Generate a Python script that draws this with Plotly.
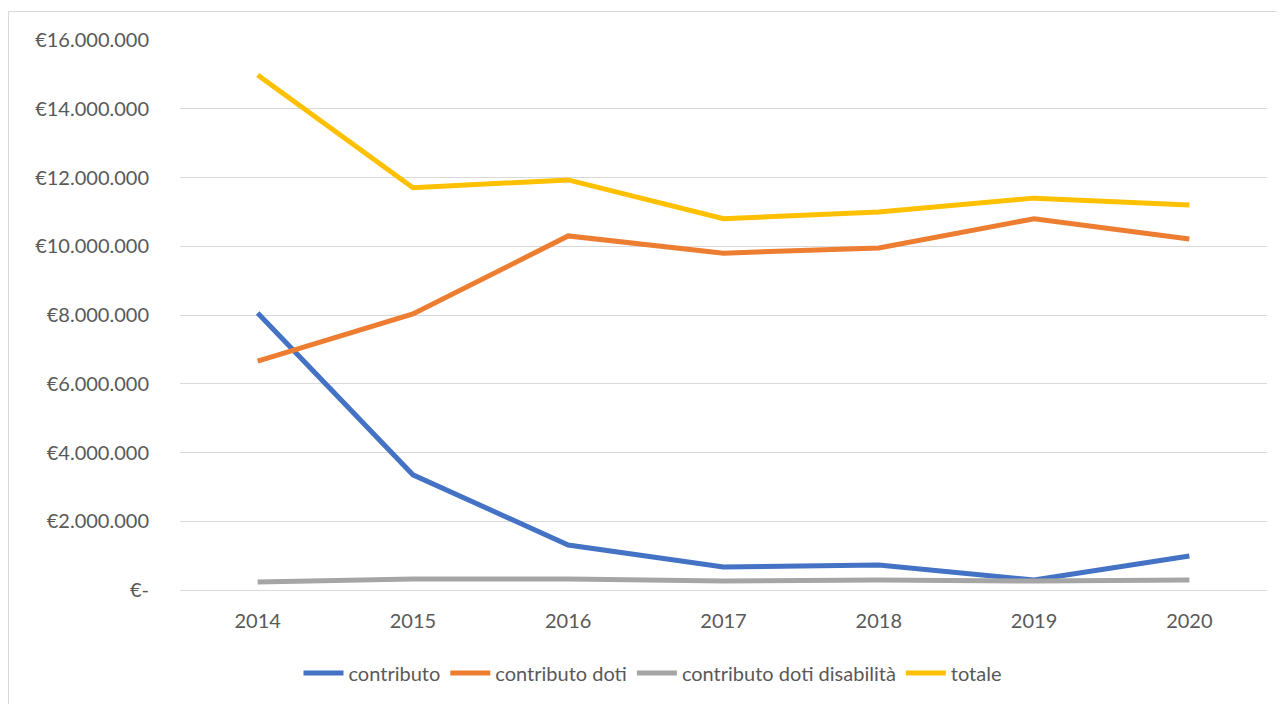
import plotly.graph_objects as go

years = ["2014", "2015", "2016", "2017", "2018", "2019", "2020"]
contributo = [8060000, 3350000, 1310000, 670000, 730000, 290000, 990000]
contributo_doti = [6660000, 8030000, 10300000, 9800000, 9950000, 10800000, 10210000]
contributo_doti_disabilita = [230000, 320000, 320000, 260000, 290000, 260000, 290000]
totale = [14980000, 11700000, 11930000, 10800000, 11000000, 11400000, 11200000]

series_names = ["contributo", "contributo doti", "contributo doti disabilità", "totale"]
series_colors = ["#4472C4", "#ED7D31", "#A5A5A5", "#FFC000"]

y_tickvals = [0, 2000000, 4000000, 6000000, 8000000, 10000000, 12000000, 14000000, 16000000]
y_ticktext = ["€-", "€2.000.000", "€4.000.000", "€6.000.000", "€8.000.000",
              "€10.000.000", "€12.000.000", "€14.000.000", "€16.000.000"]

# page body has an 8px margin, so the figure starts at (8, 8) in the window
OFF = 8
W, H = 1285 - OFF, 704 - OFF
ml, mr, mt, mb = 180 - OFF, 18, 40 - OFF, H - (590 - OFF)

fig = go.Figure()
for name, vals, col in zip(series_names,
                           [contributo, contributo_doti, contributo_doti_disabilita, totale],
                           series_colors):
    fig.add_trace(go.Scatter(x=years, y=vals, name=name, mode="lines",
                             line=dict(color=col, width=5)))

pw = W - ml - mr
ph = H - mt - mb
def px(x):
    return (x - OFF - ml) / pw
def py(y):
    return (H - mb - (y - OFF)) / ph

fig.add_shape(type="rect", xref="paper", yref="paper",
              x0=px(8.5), x1=px(1283.5), y0=py(710), y1=py(11.5),
              line=dict(color="#D9D9D9", width=1), fillcolor="rgba(0,0,0,0)", layer="below")

fig.update_layout(
    width=W, height=H,
    margin=dict(l=ml, r=mr, t=mt, b=mb),
    paper_bgcolor="white", plot_bgcolor="white",
    font=dict(family="Lato, Carlito, sans-serif", size=20, color="#595959"),
    showlegend=True,
    legend=dict(orientation="h", x=px(653), xanchor="center", y=py(673), yanchor="middle",
                font=dict(size=20, color="#595959"), itemwidth=40, tracegroupgap=0),
    xaxis=dict(type="category", range=[-0.5, 6.5], showgrid=False, zeroline=False,
               showline=False, ticks="outside", ticklen=13, tickcolor="rgba(0,0,0,0)",
               fixedrange=True),
    yaxis=dict(range=[0, 16000000], tickvals=y_tickvals, ticktext=y_ticktext,
               showgrid=True, gridcolor="#D9D9D9", gridwidth=1.3, zeroline=True,
               zerolinecolor="#D9D9D9", zerolinewidth=1.3, showline=False,
               ticks="outside", ticklen=26, tickcolor="rgba(0,0,0,0)", fixedrange=True),
)

fig.write_html("out.html")
